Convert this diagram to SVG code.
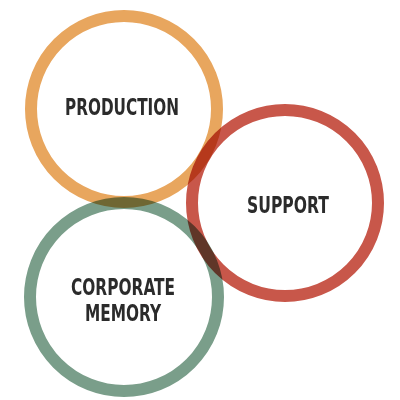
<svg xmlns="http://www.w3.org/2000/svg" width="400" height="400" viewBox="0 0 400 400">
<style>
.ring{fill:none;stroke-width:12;mix-blend-mode:multiply}
.lbl{font-family:"DejaVu Sans Condensed","Liberation Sans Narrow","Liberation Sans",sans-serif;font-weight:bold;font-size:23px;fill:#2b2b2b;text-anchor:middle}
</style>
<rect width="400" height="400" fill="#fff"/>
<g id="production">
<circle class="ring" cx="124" cy="109" r="93" stroke="#E8A65E"/>
<text class="lbl" x="122" y="115" textLength="114" lengthAdjust="spacingAndGlyphs">PRODUCTION</text>
</g>
<g id="support">
<circle class="ring" cx="285" cy="203" r="93" stroke="#C8574A"/>
<text class="lbl" x="288" y="213" textLength="82" lengthAdjust="spacingAndGlyphs">SUPPORT</text>
</g>
<g id="corporate-memory">
<circle class="ring" cx="124" cy="297" r="94" stroke="#7A9E8A"/>
<text class="lbl" x="123" y="295" textLength="104" lengthAdjust="spacingAndGlyphs">CORPORATE</text>
<text class="lbl" x="123" y="321" textLength="76" lengthAdjust="spacingAndGlyphs">MEMORY</text>
</g>
<g id="connectors"/>
</svg>
